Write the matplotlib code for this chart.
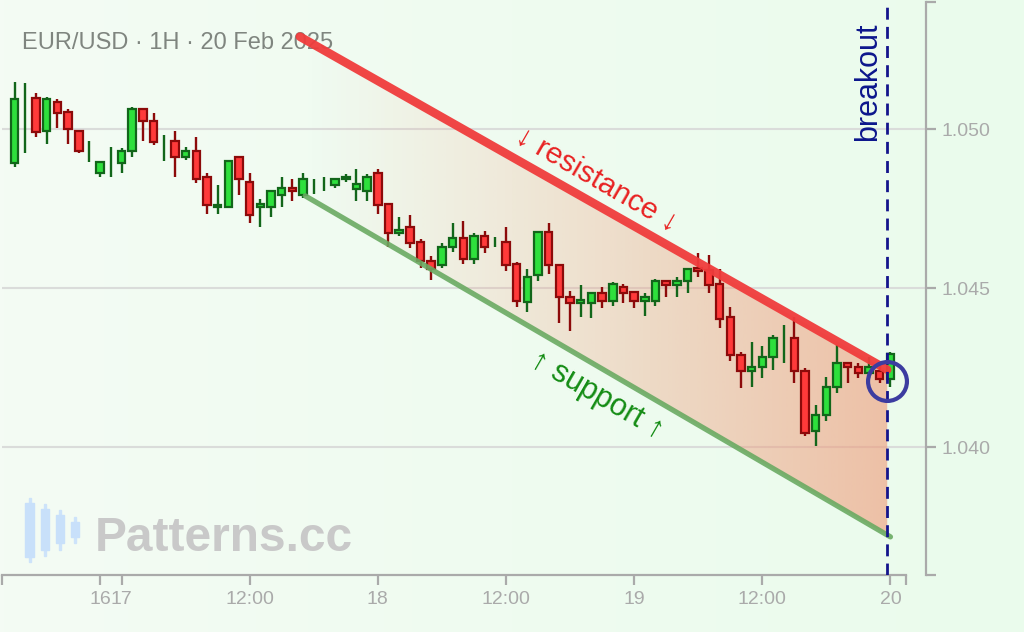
import matplotlib
matplotlib.use("Agg")
import matplotlib.pyplot as plt
import numpy as np
from matplotlib.patches import Rectangle, Polygon

plt.rcParams["font.family"] = ["Liberation Sans", "DejaVu Sans"]

W, H, DPI = 1024, 632, 100

# ---- data (EUR/USD 1H, hours relative to 17 Feb 00:00) ----
first_hour = -10
opens = [1.04894, 1.05097, 1.05098, 1.04995, 1.05086, 1.05054, 1.04996, 1.04930, 1.04862, 1.04895,
         1.04894, 1.04932, 1.05065, 1.05028, 1.04964, 1.04965, 1.04914, 1.04933, 1.04851, 1.04757,
         1.04755, 1.04914, 1.04834, 1.04757, 1.04755, 1.04794, 1.04815, 1.04794, 1.04822, 1.04829,
         1.04825, 1.04843, 1.04813, 1.04806, 1.04864, 1.04765, 1.04675, 1.04694, 1.04645, 1.04586,
         1.04574, 1.04631, 1.04658, 1.04592, 1.04665, 1.04646, 1.04645, 1.04577, 1.04458, 1.04542,
         1.04677, 1.04574, 1.04474, 1.04455, 1.04455, 1.04486, 1.04460, 1.04505, 1.04488, 1.04460,
         1.04460, 1.04524, 1.04511, 1.04524, 1.04563, 1.04558, 1.04513, 1.04411, 1.04290, 1.04240,
         1.04254, 1.04285, 1.04344, 1.04343, 1.04241, 1.04051, 1.04102, 1.04189, 1.04266, 1.04254,
         1.04235, 1.04241, 1.04214]
highs = [1.05150, 1.05145, 1.05114, 1.05101, 1.05095, 1.05064, 1.04998, 1.04964, 1.04902, 1.04944,
         1.04943, 1.05070, 1.05067, 1.05051, 1.04983, 1.04995, 1.04944, 1.04977, 1.04862, 1.04825,
         1.04904, 1.04917, 1.04864, 1.04780, 1.04810, 1.04850, 1.04843, 1.04862, 1.04843, 1.04850,
         1.04846, 1.04860, 1.04875, 1.04860, 1.04875, 1.04766, 1.04724, 1.04731, 1.04655, 1.04602,
         1.04642, 1.04705, 1.04712, 1.04673, 1.04681, 1.04661, 1.04692, 1.04584, 1.04560, 1.04682,
         1.04705, 1.04577, 1.04493, 1.04511, 1.04486, 1.04503, 1.04521, 1.04514, 1.04490, 1.04485,
         1.04529, 1.04526, 1.04535, 1.04563, 1.04610, 1.04605, 1.04560, 1.04441, 1.04301, 1.04332,
         1.04320, 1.04353, 1.04385, 1.04409, 1.04249, 1.04133, 1.04220, 1.04322, 1.04269, 1.04264,
         1.04283, 1.04269, 1.04301]
lows = [1.04883, 1.04927, 1.04977, 1.04954, 1.05004, 1.04954, 1.04927, 1.04896, 1.04851, 1.04851,
        1.04864, 1.04914, 1.04965, 1.04951, 1.04902, 1.04851, 1.04904, 1.04833, 1.04733, 1.04733,
        1.04755, 1.04794, 1.04707, 1.04694, 1.04726, 1.04757, 1.04776, 1.04784, 1.04797, 1.04807,
        1.04815, 1.04834, 1.04776, 1.04776, 1.04734, 1.04631, 1.04665, 1.04626, 1.04563, 1.04526,
        1.04563, 1.04615, 1.04577, 1.04577, 1.04612, 1.04631, 1.04556, 1.04442, 1.04424, 1.04524,
        1.04545, 1.04392, 1.04367, 1.04411, 1.04406, 1.04437, 1.04445, 1.04455, 1.04437, 1.04413,
        1.04445, 1.04474, 1.04474, 1.04486, 1.04535, 1.04486, 1.04374, 1.04272, 1.04186, 1.04191,
        1.04217, 1.04243, 1.04266, 1.04203, 1.04036, 1.04004, 1.04084, 1.04172, 1.04203, 1.04217,
        1.04217, 1.04201, 1.04191]
closes = [1.05096, 1.05097, 1.04993, 1.05096, 1.05053, 1.05001, 1.04932, 1.04930, 1.04896, 1.04895,
          1.04933, 1.05065, 1.05025, 1.04962, 1.04964, 1.04913, 1.04933, 1.04843, 1.04762, 1.04762,
          1.04902, 1.04843, 1.04731, 1.04765, 1.04807, 1.04815, 1.04806, 1.04844, 1.04822, 1.04829,
          1.04844, 1.04851, 1.04828, 1.04851, 1.04762, 1.04675, 1.04684, 1.04642, 1.04586, 1.04561,
          1.04631, 1.04658, 1.04592, 1.04665, 1.04629, 1.04646, 1.04574, 1.04461, 1.04537, 1.04677,
          1.04574, 1.04472, 1.04453, 1.04464, 1.04486, 1.04461, 1.04513, 1.04486, 1.04460, 1.04474,
          1.04524, 1.04511, 1.04524, 1.04561, 1.04553, 1.04511, 1.04403, 1.04290, 1.04240, 1.04254,
          1.04285, 1.04343, 1.04344, 1.04240, 1.04044, 1.04102, 1.04191, 1.04266, 1.04254, 1.04235,
          1.04254, 1.04214, 1.04294]

res_hours = [16.7, 71.7]
res_prices = [1.05292, 1.04244]
sup_hours = [17.2, 72.0]
sup_prices = [1.04791, 1.03718]
breakout_hour = 71.7
breakout_price = 1.04208

tick_hours = [-2, 0, 12, 24, 36, 48, 60, 72]
tick_labels = ["16", "17", "12:00", "18", "12:00", "19", "12:00", "20"]
price_ticks = [1.040, 1.045, 1.050]

XLIM = (-11.19, 75.33)
YLIM = (1.03598, 1.05401)
X_END = 73.46

GREEN_FILL, GREEN_EDGE = "#2ee03c", "#12661a"
RED_FILL, RED_EDGE = "#ff3a3a", "#8c0a0a"
AXIS_GRAY = "#aaaaaa"

fig = plt.figure(figsize=(W / DPI, H / DPI), dpi=DPI)

# background gradient
bg = fig.add_axes([0, 0, 1, 1], zorder=-10)
g = np.linspace(0, 1, 256)
c0 = np.array([244, 251, 244]) / 255
c1 = np.array([234, 252, 236]) / 255
grad = c0[None, :] * (1 - g[:, None]) + c1[None, :] * g[:, None]
bg.imshow(grad[None, :, :], aspect="auto", extent=(0, 1, 0, 1))
bg.axis("off")

ax = fig.add_axes([2 / W, 1 - 575 / H, 924 / W, 573 / H])
ax.set_facecolor("none")

x = np.arange(len(opens)) + first_hour
bw = 0.7
for xi, o, h, l, c in zip(x, opens, highs, lows, closes):
    up = c >= o
    ec = GREEN_EDGE if up else RED_EDGE
    fc = GREEN_FILL if up else RED_FILL
    ax.plot([xi, xi], [l, h], color=ec, lw=1.7, solid_capstyle="butt", zorder=4)
    if o != c:
        ax.add_patch(Rectangle((xi - bw / 2, min(o, c)), bw, abs(c - o),
                               facecolor=fc, edgecolor=ec, lw=1.6, zorder=5))

# channel fill with horizontal gradient
fx = np.linspace(sup_hours[0], breakout_hour, 200)
top = np.interp(fx, res_hours, res_prices)
bot = np.interp(fx, sup_hours, sup_prices)
poly = Polygon(np.column_stack([np.r_[fx, fx[::-1]], np.r_[top, bot[::-1]]]),
               facecolor="none", edgecolor="none")
ax.add_patch(poly)
a = np.linspace(0, 1, 256) ** 1.1 * 0.6
rgba = np.zeros((1, 256, 4))
rgba[..., 0], rgba[..., 1], rgba[..., 2] = 0.94, 0.60, 0.47
rgba[..., 3] = a
im = ax.imshow(rgba, aspect="auto", extent=(fx[0], fx[-1], min(sup_prices), max(res_prices)),
               zorder=2, interpolation="bilinear")
im.set_clip_path(poly)

ax.plot(res_hours, res_prices, color="#f03c3c", lw=6.2, alpha=0.95,
        solid_capstyle="round", zorder=6)
ax.plot(sup_hours, sup_prices, color="#6aaa62", lw=3.8, alpha=0.9,
        solid_capstyle="round", zorder=6)

ax.axvline(breakout_hour, color="#14148c", lw=2, dashes=(4.3, 2.6), zorder=7)
ax.plot([breakout_hour], [breakout_price], marker="o", ms=28, mfc="none",
        mec="#3c3ca0", mew=3, zorder=8)

ax.text(44.5, 1.04841, "↓ resistance ↓", color="#e82222", fontsize=21.5,
        rotation=-30, rotation_mode="anchor", ha="center", va="center", zorder=9)
ax.text(44.5, 1.04165, "↑ support ↑", color="#148c14", fontsize=22,
        rotation=-30, rotation_mode="anchor", ha="center", va="center", zorder=9)
ax.text(69.9, 1.05149, "breakout", color="#0c168c", fontsize=22,
        rotation=90, ha="center", va="center", zorder=9)

# title and watermark (behind the chart lines)
ax.text(22 / W, 1 - 49.3 / H, "EUR/USD · 1H · 20 Feb 2025", transform=fig.transFigure,
        color="#7f857f", fontsize=17, ha="left", va="baseline", zorder=1)
ax.text(95 / W, 1 - 551 / H, "Patterns.cc", transform=fig.transFigure,
        color="#c9c9c9", fontsize=34.5, fontweight="bold", ha="left", va="baseline", zorder=1)
logo = [(29.5, 498, 503, 557, 562, 9), (45, 504, 509, 550, 556, 8),
        (60, 510, 515, 543, 550, 8), (75, 517, 522, 537, 543, 8)]
for cx, wt, bt, bb, wb, w in logo:
    fig.add_artist(Rectangle(((cx - 1) / W, 1 - wb / H), 2 / W, (wb - wt) / H,
                             transform=fig.transFigure, color="#cde3fa", zorder=1))
    fig.add_artist(Rectangle(((cx - w / 2) / W, 1 - bb / H), w / W, (bb - bt) / H,
                             transform=fig.transFigure, color="#c8e0fa", zorder=1))

# axes styling
ax.set_xlim(*XLIM)
ax.set_ylim(*YLIM)
for s in ("left", "top"):
    ax.spines[s].set_visible(False)
for s in ("right", "bottom"):
    ax.spines[s].set_color(AXIS_GRAY)
    ax.spines[s].set_linewidth(1.6)
ax.spines["bottom"].set_bounds(XLIM[0], X_END)
ax.yaxis.tick_right()
ax.set_xticks(tick_hours)
ax.set_xticklabels(tick_labels)
ax.set_xticks([XLIM[0], X_END], minor=True)
ax.set_yticks(price_ticks)
ax.set_yticklabels([f"{p:.3f}" for p in price_ticks])
ax.set_yticks(list(YLIM), minor=True)
ax.tick_params(which="both", direction="out", length=7.5, width=1.6, color=AXIS_GRAY,
               labelcolor=AXIS_GRAY, labelsize=14, pad=4)
ax.grid(axis="y", color="#dadcda", lw=1.5)
ax.set_axisbelow(True)

fig.savefig("out.png", dpi=DPI)
